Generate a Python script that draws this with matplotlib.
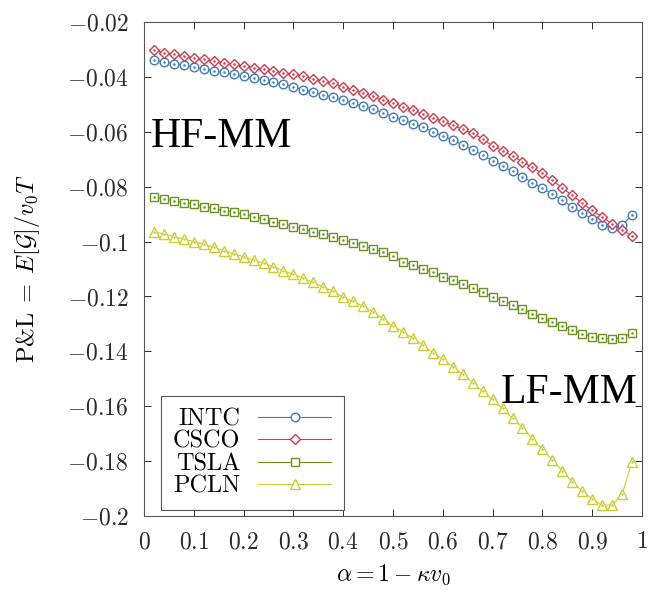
import matplotlib
matplotlib.use("Agg")
import matplotlib.pyplot as plt
import numpy as np
from matplotlib.ticker import FuncFormatter, MultipleLocator

plt.rcParams['mathtext.fontset'] = 'cm'
plt.rcParams['font.family'] = 'serif'
plt.rcParams['font.serif'] = ['cmr10', 'DejaVu Serif']
plt.rcParams['axes.unicode_minus'] = False

# alpha grid: 0.02 .. 0.98
alpha = np.round(np.arange(1, 50) * 0.02, 2)

intc = [-0.0340, -0.0346, -0.0352, -0.0358, -0.0364, -0.0370, -0.0377, -0.0384, -0.0391, -0.0398,
        -0.0405, -0.0412, -0.0419, -0.0427, -0.0437, -0.0446, -0.0455, -0.0465, -0.0475, -0.0485,
        -0.0496, -0.0507, -0.0518, -0.0531, -0.0545, -0.0557, -0.0570, -0.0584, -0.0599, -0.0615,
        -0.0630, -0.0648, -0.0666, -0.0685, -0.0705, -0.0725, -0.0744, -0.0764, -0.0785, -0.0806,
        -0.0828, -0.0850, -0.0873, -0.0896, -0.0918, -0.0938, -0.0952, -0.0940, -0.0903]

csco = [-0.0302, -0.0312, -0.0318, -0.0324, -0.0330, -0.0336, -0.0342, -0.0348, -0.0354, -0.0360,
        -0.0366, -0.0372, -0.0379, -0.0385, -0.0391, -0.0398, -0.0406, -0.0415, -0.0424, -0.0437,
        -0.0448, -0.0459, -0.0471, -0.0483, -0.0496, -0.0508, -0.0521, -0.0534, -0.0548, -0.0562,
        -0.0576, -0.0591, -0.0606, -0.0625, -0.0652, -0.0669, -0.0688, -0.0709, -0.0730, -0.0752,
        -0.0777, -0.0805, -0.0832, -0.0860, -0.0886, -0.0911, -0.0935, -0.0958, -0.0979]

tsla = [-0.0836, -0.0845, -0.0851, -0.0858, -0.0864, -0.0873, -0.0879, -0.0887, -0.0893, -0.0901,
        -0.0909, -0.0918, -0.0928, -0.0936, -0.0946, -0.0955, -0.0964, -0.0974, -0.0984, -0.0994,
        -0.1004, -0.1015, -0.1027, -0.1038, -0.1053, -0.1073, -0.1085, -0.1101, -0.1112, -0.1128,
        -0.1140, -0.1155, -0.1170, -0.1185, -0.1201, -0.1215, -0.1231, -0.1246, -0.1264, -0.1279,
        -0.1294, -0.1308, -0.1322, -0.1337, -0.1346, -0.1352, -0.1355, -0.1350, -0.1332]

pcln = [-0.0964, -0.0972, -0.0982, -0.0991, -0.1000, -0.1010, -0.1021, -0.1033, -0.1045, -0.1055,
        -0.1067, -0.1079, -0.1091, -0.1107, -0.1119, -0.1134, -0.1149, -0.1165, -0.1181, -0.1203,
        -0.1218, -0.1236, -0.1256, -0.1281, -0.1308, -0.1328, -0.1353, -0.1377, -0.1405, -0.1429,
        -0.1456, -0.1484, -0.1514, -0.1545, -0.1575, -0.1608, -0.1644, -0.1680, -0.1719, -0.1757,
        -0.1796, -0.1835, -0.1875, -0.1908, -0.1939, -0.1960, -0.1960, -0.1921, -0.1802]

names = ['INTC', 'CSCO', 'TSLA', 'PCLN']
series = [intc, csco, tsla, pcln]
colors = ['#3f7cbc', '#d03a4c', '#6b9220', '#cdcd30']
markers = ['o', 'D', 's', '^']
msizes = [6.2, 5.6, 6.4, 7.2]

fig = plt.figure(figsize=(6.55, 5.93), dpi=100)
ax = fig.add_axes([144 / 655, 1 - 516 / 593, 498 / 655, 494 / 593])

for name, ys, c, m, ms in zip(names, series, colors, markers, msizes):
    ax.plot(alpha, ys, color=c, lw=0.8, marker=m, ms=ms, mfc='white', mec=c,
            mew=1.0, label=name)
    ax.plot(alpha, ys, ls='none', marker='.', ms=1.6, color=c)

ax.set_xlim(0, 1)
ax.set_ylim(-0.2, -0.02)
ax.xaxis.set_major_locator(MultipleLocator(0.1))
ax.yaxis.set_major_locator(MultipleLocator(0.02))

fmt = FuncFormatter(lambda v, p: r'$%s$' % ('%g' % round(v, 2)))
ax.xaxis.set_major_formatter(fmt)
ax.yaxis.set_major_formatter(fmt)

ax.tick_params(direction='in', length=5, width=0.7, top=True, right=True,
               labelsize=17, pad=11, colors='#2a2a2a')
for s in ax.spines.values():
    s.set_linewidth(0.8)
    s.set_color('#555555')

ax.set_xlabel(r'$\alpha = 1 - \kappa v_0$', fontsize=17)
ax.set_ylabel(r'$\mathrm{P&L} \;=\; E[\mathcal{G}]/v_0T$', fontsize=17.5)
ax.xaxis.set_label_coords(0.5, -0.095)
ax.yaxis.set_label_coords(-0.205, 0.5)

ax.text(0.013, -0.0654, 'HF-MM', family='Liberation Serif', fontsize=30,
        ha='left', va='baseline')
ax.text(0.992, -0.1588, 'LF-MM', family='Liberation Serif', fontsize=30,
        ha='right', va='baseline')

leg = ax.legend(loc='lower left', bbox_to_anchor=(0.0335, 0.012), borderaxespad=0,
                markerfirst=False, fontsize=17.5, handlelength=3.0, handletextpad=0.75,
                labelspacing=0.02, borderpad=0.5, fancybox=False, framealpha=1,
                edgecolor='#555555')
leg.get_frame().set_linewidth(0.8)

fig.savefig('out.png', dpi=100)
